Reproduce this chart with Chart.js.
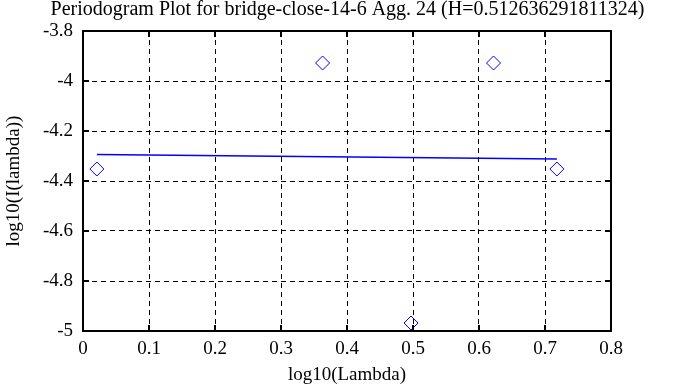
<!DOCTYPE html>
<html>
<head>
<meta charset="utf-8">
<script src="https://cdn.jsdelivr.net/npm/chart.js@4/dist/chart.umd.min.js"></script>
<style>
  html, body { margin: 0; padding: 0; background: #fff; }
  #wrap { width: 695px; height: 387px; }
</style>
</head>
<body>
<div id="wrap"><canvas id="chart" width="695" height="387"></canvas></div>
<script>
// periodogram points (log10 lambda, log10 I(lambda))
const lambdaLog = [0.021, 0.363, 0.497, 0.622, 0.718];
const periodLog = [-4.352, -3.928, -4.968, -3.928, -4.352];

// fitted line end points
const fitX = [0.021, 0.718];
const fitY = [-4.294, -4.312];

const xTicks = [0, 0.1, 0.2, 0.3, 0.4, 0.5, 0.6, 0.7, 0.8];
const yTicks = [-5, -4.8, -4.6, -4.4, -4.2, -4, -3.8];

const serif = '"Liberation Serif", "DejaVu Serif", serif';

// gnuplot style small inner tick marks on all four sides
const innerTicks = {
    id: 'innerTicks',
    afterDraw(chart) {
        const ctx = chart.ctx;
        const a = chart.chartArea;
        const xs = chart.scales.x, ys = chart.scales.y;
        const len = 6;
        ctx.save();
        ctx.strokeStyle = '#000';
        ctx.lineWidth = 2;
        ctx.beginPath();
        xTicks.forEach(v => {
            const px = Math.round(xs.getPixelForValue(v));
            ctx.moveTo(px, a.bottom); ctx.lineTo(px, a.bottom - len);
            ctx.moveTo(px, a.top); ctx.lineTo(px, a.top + len);
        });
        yTicks.forEach(v => {
            const py = Math.round(ys.getPixelForValue(v));
            ctx.moveTo(a.left, py); ctx.lineTo(a.left + len, py);
            ctx.moveTo(a.right, py); ctx.lineTo(a.right - len, py);
        });
        ctx.stroke();
        ctx.strokeRect(a.left, a.top, a.right - a.left, a.bottom - a.top);
        ctx.restore();
    }
};

new Chart(document.getElementById('chart'), {
    type: 'scatter',
    data: {
        datasets: [{
            label: 'periodogram',
            data: lambdaLog.map((x, i) => ({ x: x, y: periodLog[i] })),
            pointStyle: 'rectRot',
            pointRadius: 7,
            pointHoverRadius: 7,
            borderColor: '#0000ff',
            backgroundColor: 'rgba(0,0,0,0)',
            pointBorderWidth: 1,
            showLine: false
        }, {
            label: 'fit',
            data: fitX.map((x, i) => ({ x: x, y: fitY[i] })),
            showLine: true,
            borderColor: '#0000ff',
            borderWidth: 1.5,
            pointRadius: 0,
            fill: false
        }]
    },
    options: {
        responsive: false,
        animation: false,
        events: [],
        plugins: {
            legend: { display: false },
            tooltip: { enabled: false },
            title: {
                display: true,
                text: 'Periodogram Plot for bridge-close-14-6 Agg. 24 (H=0.512636291811324)',
                color: '#000',
                font: { family: serif, size: 20, weight: 'normal', lineHeight: 1.0 },
                padding: { top: 0, bottom: 11 }
            }
        },
        scales: {
            x: {
                type: 'linear',
                min: 0,
                max: 0.8,
                afterBuildTicks: s => { s.ticks = xTicks.map(v => ({ value: v })); },
                afterFit: s => { s.height = 56; },
                ticks: {
                    color: '#000',
                    font: { family: serif, size: 19 },
                    padding: 7,
                    maxRotation: 0,
                    callback: v => String(v)
                },
                grid: {
                    color: '#000',
                    lineWidth: 1,
                    drawTicks: false
                },
                border: { display: false, dash: [5, 4] },
                title: {
                    display: true,
                    text: 'log10(Lambda)',
                    color: '#000',
                    font: { family: serif, size: 19 },
                    padding: { top: 0, bottom: 1 }
                }
            },
            y: {
                type: 'linear',
                min: -5,
                max: -3.8,
                afterBuildTicks: s => { s.ticks = yTicks.map(v => ({ value: v })); },
                afterFit: s => { s.width = 83; },
                ticks: {
                    color: '#000',
                    font: { family: serif, size: 19 },
                    padding: 10,
                    callback: v => String(v)
                },
                grid: {
                    color: '#000',
                    lineWidth: 1,
                    drawTicks: false
                },
                border: { display: false, dash: [5, 4] },
                title: {
                    display: true,
                    text: 'log10(I(lambda))',
                    color: '#000',
                    font: { family: serif, size: 19 },
                    padding: { top: 3, bottom: 0 }
                }
            },
            // empty right margin so the title stays centred on the canvas
            yRight: {
                type: 'linear',
                position: 'right',
                min: -5,
                max: -3.8,
                afterFit: s => { s.width = 84; },
                ticks: { display: false },
                grid: { display: false, drawTicks: false },
                border: { display: false }
            }
        }
    },
    plugins: [innerTicks]
});
</script>
</body>
</html>
